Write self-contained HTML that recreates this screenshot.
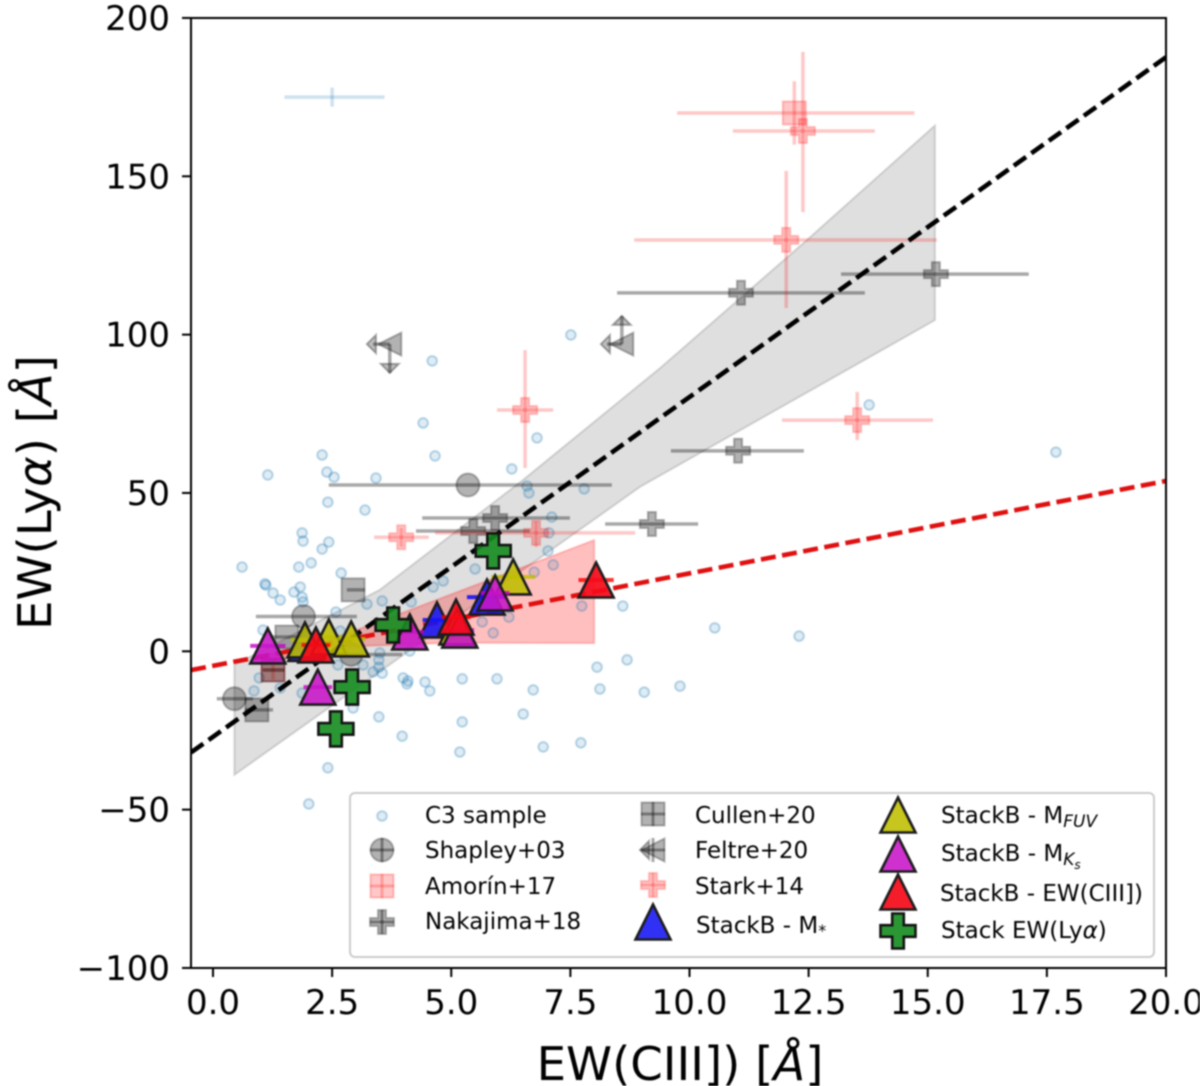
<!DOCTYPE html>
<html lang="en">
<head>
<meta charset="utf-8">
<title>EW(Lyα) vs EW(CIII])</title>
<style>
html,body{margin:0;padding:0;background:#fff;}
body{width:1200px;height:1086px;overflow:hidden;}
svg{display:block;filter:blur(0.7px);}
text{font-family:"DejaVu Sans","Liberation Sans",sans-serif;fill:#000;}
</style>
</head>
<body>
<svg id="chart" xmlns="http://www.w3.org/2000/svg" width="1200" height="1086" viewBox="0 0 1200 1086">
  <rect x="191" y="18" width="975" height="950" fill="#fff"/>
  <g id="plot" clip-path="url(#axclip)"></g>
  <defs><clipPath id="axclip"><rect x="191" y="18" width="975" height="950"/></clipPath></defs>
  <rect x="191" y="18" width="975" height="950" fill="none" stroke="#000" stroke-width="2"/>
  <g id="axes"></g>
  <text x="680" y="1080" font-size="46.6" text-anchor="middle">EW(CIII]) [<tspan font-style="italic">Å</tspan>]</text>
  <text transform="translate(51,492.5) rotate(-90)" font-size="46.6" text-anchor="middle">EW(Ly<tspan font-style="italic">α</tspan>) [<tspan font-style="italic">Å</tspan>]</text>
  <g>
    <rect x="350" y="793" width="804" height="164" rx="5" fill="#fff" fill-opacity="0.9" stroke="#ccc" stroke-width="2"/>
    <g id="legendMarks"></g>
    <g font-size="23">
      <text x="425" y="823">C3 sample</text>
      <text x="425" y="858">Shapley+03</text>
      <text x="425" y="894">Amorín+17</text>
      <text x="425" y="929">Nakajima+18</text>
      <text x="695" y="823">Cullen+20</text>
      <text x="695" y="858">Feltre+20</text>
      <text x="695" y="894">Stark+14</text>
      <text x="696" y="933">StackB - M<tspan font-size="16" dy="3">*</tspan></text>
      <text x="941" y="823">StackB - M<tspan font-size="17" font-style="italic" dy="4">FUV</tspan></text>
      <text x="941" y="861">StackB - M<tspan font-size="17" font-style="italic" dy="4">K</tspan><tspan font-size="12" font-style="italic" dy="4">s</tspan></text>
      <text x="940" y="901">StackB - EW(CIII])</text>
      <text x="941" y="938">Stack EW(Ly<tspan font-style="italic">α</tspan>)</text>
    </g>
  </g>
</svg>
<script>
// ---- axis tick labels ----
const xTicks = [0, 2.5, 5, 7.5, 10, 12.5, 15, 17.5, 20];
const xTickLabels = ["0.0", "2.5", "5.0", "7.5", "10.0", "12.5", "15.0", "17.5", "20.0"];
const yTicks = [-100, -50, 0, 50, 100, 150, 200];
const yTickLabels = ["\u2212100", "\u221250", "0", "50", "100", "150", "200"];
const xLimits = [-0.46, 20];

// ---- C3 sample ----
const c3X = [1.15,2.29,2.39,2.54,2.41,3.19,3.42,4.60,4.41,4.66,7.51,6.80,6.27,6.59,6.63,7.79,7.11,7.05,7.03,7.14,6.74,5.50,4.83,4.62,4.16,3.55,3.23,2.58,1.87,1.89,2.43,2.29,0.61,1.80,2.06,2.69,1.09,1.11,1.26,1.41,1.70,1.83,1.87,1.89,5.65,6.21,5.88,7.74,8.60,8.06,8.69,8.12,9.05,9.80,6.72,5.96,5.23,4.45,4.55,3.99,4.09,4.07,4.13,3.50,3.48,3.48,3.55,3.36,3.15,2.62,0.97,0.86,1.41,1.87,2.94,3.48,3.97,5.23,6.51,5.18,6.93,7.72,2.41,2.01,13.77,17.69,12.30,10.53,1.05,2.67];
const c3Y = [55.7,62.0,56.6,55.0,47.1,44.6,54.7,91.7,72.1,61.7,99.9,67.4,57.6,52.2,50.0,51.3,42.4,37.4,31.7,27.3,25.0,26.0,22.2,20.3,15.6,15.9,14.9,12.4,37.4,34.8,34.5,32.3,26.6,26.6,27.9,24.7,21.3,20.9,18.4,16.2,18.7,20.3,17.1,15.6,9.3,10.8,5.8,14.3,14.3,-5.0,-2.7,-11.9,-12.9,-11.0,-12.2,-8.7,-8.7,-9.7,-12.5,-8.4,-9.4,-10.3,0.1,-0.5,-2.7,-5.0,-6.9,-6.5,-4.3,-4.3,-8.4,-12.5,-11.6,-13.2,-17.9,-20.7,-26.8,-22.3,-19.8,-31.8,-30.2,-28.9,-36.8,-48.2,77.8,62.9,4.8,7.4,6.7,6.4];
const c3OutlierX = [2.5], c3OutlierY = [175], c3OutlierXLo = [1.5], c3OutlierXHi = [3.6], c3OutlierYLo = [172], c3OutlierYHi = [178];

// ---- literature samples ----
const shapleyX = [0.45,1.9,5.35,2.9], shapleyY = [-15,11,52.5,-1];
const shapleyXLo = [0.08,0.90,2.43,1.9], shapleyXHi = [0.84,3.02,8.37,3.97];

const cullenX = [2.94,1.55,1.26,0.92], cullenY = [19.4,4.5,-5.9,-18.5];
const cullenXLo = [2.81,1.2,1.05,0.67], cullenXHi = [3.19,1.9,1.5,1.26];

const amorinX = [12.2,1.26], amorinY = [170,-5.9];
const amorinXLo = [9.74,1.0], amorinXHi = [14.72,1.5];
const amorinYLo = [160,-9], amorinYHi = [180,-3];

const nakajimaX = [11.08,15.17,11.02,9.21,5.92,5.46], nakajimaY = [113.2,119.1,63.3,40.2,42.1,38];
const nakajimaXLo = [8.48,13.18,9.61,8.23,4.39,4.26], nakajimaXHi = [13.68,17.12,12.4,10.18,7.49,6.65];

const starkX = [6.55,12.03,12.38,13.52,3.95,6.78], starkY = [76.2,129.9,164.3,73,36,37.4];
const starkXLo = [5.96,8.84,10.91,11.94,3.38,4.66], starkXHi = [7.14,15.19,13.89,15.11,4.53,8.86];
const starkYLo = [57.9,108.4,138.7,66.7,33,33], starkYHi = [95.1,151.7,189.3,81.9,39,41];

const feltreX = [3.71,8.58], feltreY = [97,97];
const feltreXLimit = [3.23,8.14], feltreYLimit = [87.9,105.9];

// ---- stacks ----
const mStarX = [1.95,4.7,5.75], mStarY = [2.5,9.9,17.1], mStarXErr = [0.25,0.3,0.42];
const mFuvX = [1.93,2.43,2.9,5.12,6.3], mFuvY = [3.6,4.5,3.9,7.7,23.5], mFuvXErr = [0.3,0.3,0.3,0.3,0.46];
const mKsX = [1.15,2.2,4.13,5.18,5.92], mKsY = [1.7,-11.3,6.1,6.7,18.4], mKsXErr = [0.37,0.3,0.3,0.3,0.3];
const ewCiiiX = [2.16,5.1,8.04], ewCiiiY = [2,10.8,22.5], ewCiiiXErr = [0.3,0.3,0.37];
const ewLyaX = [5.88,3.78,2.92,2.58], ewLyaY = [31.7,8.3,-11.3,-24.5];

// ---- fits ----
const blackFit = [10.73, -27], redFit = [2.92, -4.6];
const greyBandUpperX = [0.45,3.5,6.5,9.38,12.47,15.15], greyBandUpperY = [-4.3,19.4,54,89.4,129.9,166];
const greyBandLowerX = [0.45,8.96,15.15], greyBandLowerY = [-39,51.9,104.6];
const redBandUpperX = [1.1,4.13,8], redBandUpperY = [-4,13,35.1];
const redBandLowerX = [1.1,2,5,8], redBandLowerY = [-1,1,2.7,2.6];

const sx = v => 213 + v * 47.65;
const sy = v => 651.3 - v * 3.1667;

const NS = "http://www.w3.org/2000/svg";
const plot = document.getElementById("plot");
const axes = document.getElementById("axes");
const legendMarks = document.getElementById("legendMarks");

function mk(tag, props, parent) {
  const el = document.createElementNS(NS, tag);
  for (const k in props) el.setAttribute(k, props[k]);
  parent.appendChild(el);
  return el;
}
function poly(pts, props, parent) {
  return mk("polygon", Object.assign({points: pts.map(p => p[0].toFixed(1) + "," + p[1].toFixed(1)).join(" ")}, props), parent);
}
function seg(x1, y1, x2, y2, stroke, w, parent) {
  return mk("line", {x1, y1, x2, y2, stroke, "stroke-width": w}, parent);
}
function plusPts(x, y, s) {
  const a = s / 2, b = s / 6;
  return [[x-b,y-a],[x+b,y-a],[x+b,y-b],[x+a,y-b],[x+a,y+b],[x+b,y+b],[x+b,y+a],[x-b,y+a],[x-b,y+b],[x-a,y+b],[x-a,y-b],[x-b,y-b]];
}
function triPts(x, y, s) {
  return [[x,y-s/2],[x+s/2,y+s/2],[x-s/2,y+s/2]];
}
function arrowHead(x, y, dir, parent) {
  const s = 9;
  let pts;
  if (dir === "left") pts = [[x,y],[x+s,y-s],[x+s,y+s]];
  else if (dir === "down") pts = [[x,y],[x-s,y-s],[x+s,y-s]];
  else pts = [[x,y],[x-s,y+s],[x+s,y+s]];
  return poly(pts, {fill:"rgba(0,0,0,0.25)", stroke:"rgba(0,0,0,0.32)", "stroke-width":2}, parent);
}

const GREY = "rgba(0,0,0,0.3)", GREY_LINE = "rgba(0,0,0,0.34)", GREY_EDGE = "rgba(0,0,0,0.27)";
const PINK = "rgba(255,0,0,0.22)", PINK_LINE = "rgba(255,0,0,0.22)", PINK_EDGE = "rgba(255,0,0,0.22)";

// ---- bands ----
{
  const pts = greyBandUpperX.map((x,i) => [sx(x), sy(greyBandUpperY[i])]);
  for (let i = greyBandLowerX.length - 1; i >= 0; i--) pts.push([sx(greyBandLowerX[i]), sy(greyBandLowerY[i])]);
  const el = poly(pts, {fill:"rgba(128,128,128,0.25)", stroke:"rgba(128,128,128,0.3)", "stroke-width":2}, plot);
  
  
}
{
  const pts = redBandUpperX.map((x,i) => [sx(x), sy(redBandUpperY[i])]);
  for (let i = redBandLowerX.length - 1; i >= 0; i--) pts.push([sx(redBandLowerX[i]), sy(redBandLowerY[i])]);
  const el = poly(pts, {fill:"rgba(255,0,0,0.25)", stroke:"rgba(255,0,0,0.2)", "stroke-width":2}, plot);
  
  
}

// ---- C3 sample ----
c3X.forEach((x, i) => {
  const el = mk("circle", {cx:sx(x), cy:sy(c3Y[i]), r:4.8, fill:"rgba(31,119,180,0.14)", stroke:"rgba(31,119,180,0.3)", "stroke-width":2}, plot);
  
  
});
c3OutlierX.forEach((x, i) => {
  const g = mk("g", {}, plot);
  
  
  seg(sx(c3OutlierXLo[i]), sy(c3OutlierY[i]), sx(c3OutlierXHi[i]), sy(c3OutlierY[i]), "rgba(31,119,180,0.22)", 3.5, g);
  seg(sx(x), sy(c3OutlierYLo[i]), sx(x), sy(c3OutlierYHi[i]), "rgba(31,119,180,0.22)", 3.5, g);
});

// ---- fit lines ----
{
  const el = seg(sx(xLimits[0]), sy(redFit[0]*xLimits[0]+redFit[1]), sx(xLimits[1]), sy(redFit[0]*xLimits[1]+redFit[1]), "#e01010", 4.6, plot);
  el.setAttribute("stroke-dasharray", "15,6.5");
  
  
}

// ---- literature ----
shapleyX.forEach((x, i) => {
  const g = mk("g", {}, plot);
  
  
  seg(sx(shapleyXLo[i]), sy(shapleyY[i]), sx(shapleyXHi[i]), sy(shapleyY[i]), GREY_LINE, 3.5, g);
  mk("circle", {cx:sx(x), cy:sy(shapleyY[i]), r:11.5, fill:GREY, stroke:GREY_EDGE, "stroke-width":2}, g);
});
amorinX.forEach((x, i) => {
  const g = mk("g", {}, plot);
  
  
  seg(sx(amorinXLo[i]), sy(amorinY[i]), sx(amorinXHi[i]), sy(amorinY[i]), PINK_LINE, 3.5, g);
  seg(sx(x), sy(amorinYLo[i]), sx(x), sy(amorinYHi[i]), PINK_LINE, 3.5, g);
  mk("rect", {x:sx(x)-11.5, y:sy(amorinY[i])-11.5, width:23, height:23, fill:PINK, stroke:PINK_EDGE, "stroke-width":2}, g);
});
cullenX.forEach((x, i) => {
  const g = mk("g", {}, plot);
  
  
  seg(sx(cullenXLo[i]), sy(cullenY[i]), sx(cullenXHi[i]), sy(cullenY[i]), GREY_LINE, 3.5, g);
  mk("rect", {x:sx(x)-11.5, y:sy(cullenY[i])-11.5, width:23, height:23, fill:GREY, stroke:GREY_EDGE, "stroke-width":2}, g);
});
nakajimaX.forEach((x, i) => {
  const g = mk("g", {}, plot);
  
  
  seg(sx(nakajimaXLo[i]), sy(nakajimaY[i]), sx(nakajimaXHi[i]), sy(nakajimaY[i]), GREY_LINE, 3.5, g);
  poly(plusPts(sx(x), sy(nakajimaY[i]), 24), {fill:GREY, stroke:GREY_EDGE, "stroke-width":2}, g);
});
starkX.forEach((x, i) => {
  const g = mk("g", {}, plot);
  
  
  seg(sx(starkXLo[i]), sy(starkY[i]), sx(starkXHi[i]), sy(starkY[i]), PINK_LINE, 3.5, g);
  seg(sx(x), sy(starkYLo[i]), sx(x), sy(starkYHi[i]), PINK_LINE, 3.5, g);
  poly(plusPts(sx(x), sy(starkY[i]), 24), {fill:PINK, stroke:PINK_EDGE, "stroke-width":2}, g);
});
feltreX.forEach((x, i) => {
  const g = mk("g", {}, plot);
  
  
  const cx = sx(x), cy = sy(feltreY[i]), ax = sx(feltreXLimit[i]), ay = sy(feltreYLimit[i]);
  seg(cx, cy, ax + 6, cy, GREY_LINE, 3.5, g);
  seg(cx, cy, cx, ay, GREY_LINE, 3.5, g);
  arrowHead(ax, cy, "left", g);
  arrowHead(cx, ay, ay > cy ? "down" : "up", g);
  poly([[cx-11.5,cy],[cx+11.5,cy-11.5],[cx+11.5,cy+11.5]], {fill:GREY, stroke:GREY_EDGE, "stroke-width":2}, g);
});

// ---- black fit line above literature, below stacks ----
{
  const el = seg(sx(xLimits[0]), sy(blackFit[0]*xLimits[0]+blackFit[1]), sx(xLimits[1]), sy(blackFit[0]*xLimits[1]+blackFit[1]), "#000", 4.6, plot);
  el.setAttribute("stroke-dasharray", "15,6.5");
  
  
}

// ---- stacks ----
function drawTriangles(xs, ys, errs, color, errColor, parent, seriesName) {
  xs.forEach((x, i) => {
    const g = mk("g", {}, parent);
    
    
    seg(sx(x - errs[i]), sy(ys[i]), sx(x + errs[i]), sy(ys[i]), errColor, 4, g);
    poly(triPts(sx(x), sy(ys[i]), 35), {fill:color, stroke:"#1c1c1c", "stroke-width":2.6, "stroke-linejoin":"miter"}, g);
  });
}
const BLUE_F = "rgba(20,20,245,0.88)", OLIVE_F = "rgba(190,190,0,0.88)", MAG_F = "rgba(200,20,200,0.88)", RED_F = "rgba(245,10,25,0.92)", GREEN_F = "rgba(20,140,30,0.9)";
drawTriangles(mStarX, mStarY, mStarXErr, BLUE_F, "rgba(0,0,255,0.8)", plot, "stackb-mstar-marker");
drawTriangles(mFuvX, mFuvY, mFuvXErr, OLIVE_F, "rgba(190,190,0,0.8)", plot, "stackb-mfuv-marker");
drawTriangles(mKsX, mKsY, mKsXErr, MAG_F, "rgba(200,0,200,0.8)", plot, "stackb-mks-marker");
drawTriangles(ewCiiiX, ewCiiiY, ewCiiiXErr, RED_F, "rgba(255,0,0,0.8)", plot, "stackb-ewciii-marker");
ewLyaX.forEach((x, i) => {
  const el = poly(plusPts(sx(x), sy(ewLyaY[i]), 35), {fill:GREEN_F, stroke:"#141414", "stroke-width":2.6}, plot);
  
  
});

// ---- ticks ----
xTicks.forEach((v, i) => {
  const t = seg(sx(v), 968, sx(v), 977, "#000", 2, axes);
  
  
  const lbl = mk("text", {x:sx(v), y:1014, "font-size":34, "text-anchor":"middle"}, axes);
  lbl.textContent = xTickLabels[i];
  
  
});
yTicks.forEach((v, i) => {
  const t = seg(182, sy(v), 191, sy(v), "#000", 2, axes);
  
  
  const lbl = mk("text", {x:170, y:sy(v)+12, "font-size":34, "text-anchor":"end"}, axes);
  lbl.textContent = yTickLabels[i];
  
  
});

// ---- legend handles ----
function cross(x, y, s, color, parent) {
  seg(x - s, y, x + s, y, color, 3, parent);
  seg(x, y - s, x, y + s, color, 3, parent);
}
{
  const g = mk("g", {}, legendMarks);
  
  
  mk("circle", {cx:382, cy:816, r:4.8, fill:"rgba(31,119,180,0.14)", stroke:"rgba(31,119,180,0.3)", "stroke-width":2}, g);
}
{
  const g = mk("g", {}, legendMarks);
  
  
  cross(382, 850, 12, GREY_LINE, g);
  mk("circle", {cx:382, cy:850, r:11.5, fill:GREY, stroke:GREY_EDGE, "stroke-width":2}, g);
}
{
  const g = mk("g", {}, legendMarks);
  
  
  cross(382, 886, 12, PINK_LINE, g);
  mk("rect", {x:370.5, y:874.5, width:23, height:23, fill:PINK, stroke:PINK_EDGE, "stroke-width":2}, g);
}
{
  const g = mk("g", {}, legendMarks);
  
  
  cross(382, 922, 12, GREY_LINE, g);
  poly(plusPts(382, 922, 24), {fill:GREY, stroke:GREY_EDGE, "stroke-width":2}, g);
}
{
  const g = mk("g", {}, legendMarks);
  
  
  cross(653, 814, 12, GREY_LINE, g);
  mk("rect", {x:641.5, y:802.5, width:23, height:23, fill:GREY, stroke:GREY_EDGE, "stroke-width":2}, g);
}
{
  const g = mk("g", {}, legendMarks);
  
  
  seg(641, 850, 665, 850, GREY_LINE, 3, g);
  seg(653, 838, 653, 862, GREY_LINE, 3, g);
  arrowHead(640, 850, "left", g);
  poly([[641.5,850],[664.5,838.5],[664.5,861.5]], {fill:GREY, stroke:GREY_EDGE, "stroke-width":2}, g);
}
{
  const g = mk("g", {}, legendMarks);
  
  
  cross(653, 885, 12, PINK_LINE, g);
  poly(plusPts(653, 885, 24), {fill:PINK, stroke:PINK_EDGE, "stroke-width":2}, g);
}
function legendTri(x, y, color, name) {
  const el = poly(triPts(x, y, 35), {fill:color, stroke:"#1c1c1c", "stroke-width":2.6}, legendMarks);
  
  
}
legendTri(653, 922, BLUE_F, 'legend-marker-stackb-mstar');
legendTri(898, 815, OLIVE_F, 'legend-marker-stackb-mfuv');
legendTri(898, 854, MAG_F, 'legend-marker-stackb-mks');
legendTri(898, 892, RED_F, 'legend-marker-stackb-ewciii');
{
  const el = poly(plusPts(898, 931, 35), {fill:GREEN_F, stroke:"#141414", "stroke-width":2.6}, legendMarks);
  
  
}
</script>
</body>
</html>
